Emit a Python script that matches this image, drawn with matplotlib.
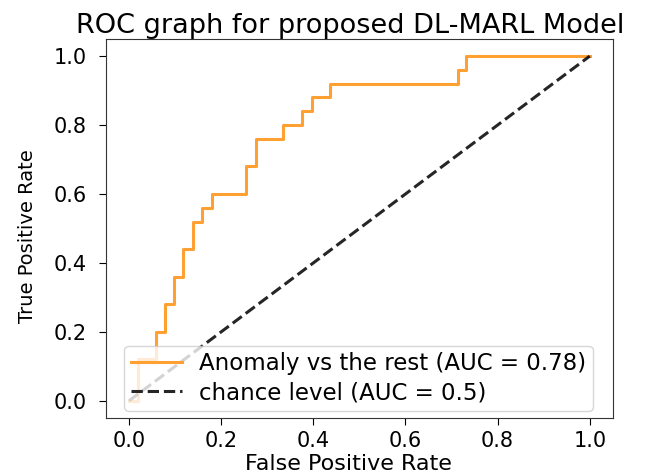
import matplotlib
matplotlib.use("Agg")
import matplotlib.pyplot as plt

# ROC points (as returned by roc_curve)
fpr = [0.0, 0.02, 0.02, 0.059, 0.059, 0.078, 0.078, 0.098, 0.098, 0.118, 0.118,
       0.138, 0.138, 0.159, 0.159, 0.18, 0.18, 0.255, 0.255, 0.275, 0.275,
       0.335, 0.335, 0.376, 0.376, 0.397, 0.397, 0.436, 0.436, 0.714, 0.714,
       0.732, 0.732, 1.0]
tpr = [0.0, 0.0, 0.12, 0.12, 0.20, 0.20, 0.28, 0.28, 0.36, 0.36, 0.44,
       0.44, 0.52, 0.52, 0.56, 0.56, 0.60, 0.60, 0.68, 0.68, 0.76,
       0.76, 0.80, 0.80, 0.84, 0.84, 0.88, 0.88, 0.92, 0.92, 0.96,
       0.96, 1.0, 1.0]
roc_auc = 0.78
chance = [0, 1]
ticks = [0.0, 0.2, 0.4, 0.6, 0.8, 1.0]

plt.rcParams['font.size'] = 15

fig = plt.figure(figsize=(6.54, 4.74), dpi=100)
ax = fig.add_axes([0.162, 0.118, 0.775, 0.800])

ax.plot(fpr, tpr, color="#ffa033", lw=2.2,
        label=f"Anomaly vs the rest (AUC = {roc_auc:.2f})")
ax.plot(chance, chance, "k--", lw=2.2, alpha=0.85, label="chance level (AUC = 0.5)")

ax.set_xticks(ticks)
ax.set_yticks(ticks)
ax.tick_params(axis="y", length=5, pad=9)
ax.tick_params(axis="x", length=5, pad=4)
for s in ax.spines.values():
    s.set_color("#333333")

ax.set_xlabel("False Positive Rate", fontsize=16)
ax.xaxis.set_label_coords(0.478, -0.095)
ax.set_ylabel("True Positive Rate", fontsize=14)
ax.yaxis.set_label_coords(-0.136, 0.48)
ax.set_title("ROC graph for proposed DL-MARL Model", fontsize=19.5, x=0.481, pad=3)

ax.legend(loc="lower right", bbox_to_anchor=(0.9606, 0.0185), borderaxespad=0,
          fontsize=16.5, handlelength=2.2, handletextpad=0.75,
          borderpad=0.3, labelspacing=0.25)

fig.savefig("out.png", dpi=100)
